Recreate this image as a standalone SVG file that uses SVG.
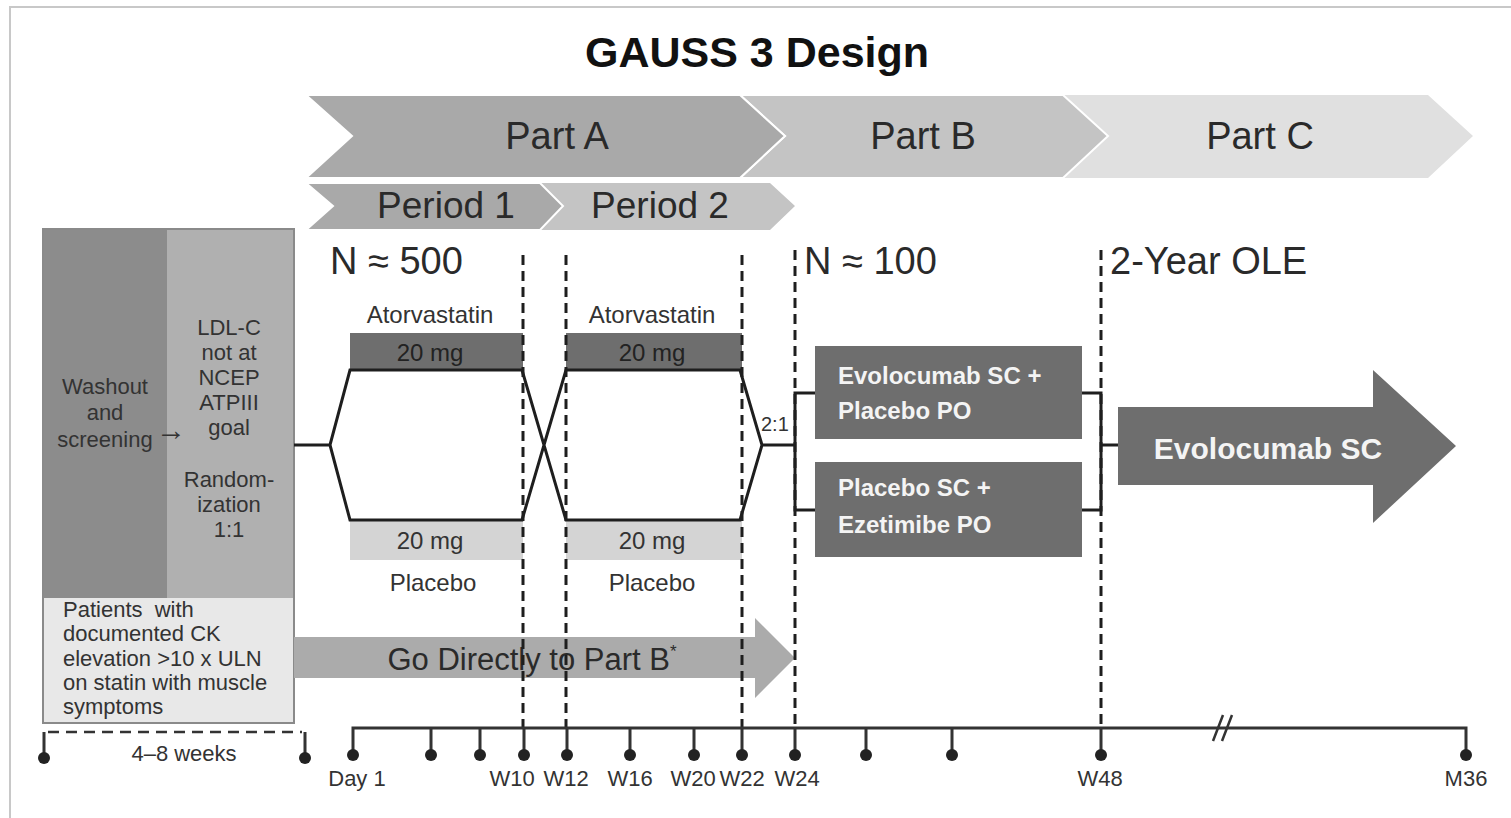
<svg xmlns="http://www.w3.org/2000/svg" width="1511" height="818" viewBox="0 0 1511 818">
<style>
text{font-family:"Liberation Sans",Arial,sans-serif}
.ttl{font-size:43px;font-weight:bold;text-anchor:middle;fill:#111}
.hdr{font-size:38px;text-anchor:middle;fill:#2a2a2a}
.per{font-size:37px;text-anchor:middle;fill:#2a2a2a}
.sm{font-size:22px;text-anchor:middle;fill:#333}
.sml{font-size:22px;text-anchor:start;fill:#333}
.arr{font-size:30px;fill:#333}
.lbl{font-size:24px;text-anchor:middle;fill:#333}
.lbd{font-size:24px;text-anchor:middle;fill:#222}
.big{font-size:38px;fill:#2a2a2a}
.r21{font-size:20px;fill:#333}
.wb{font-size:24px;font-weight:bold;fill:#f4f4f4}
.wbig{font-size:30px;font-weight:bold;text-anchor:middle;fill:#f4f4f4}
.go{font-size:31px;text-anchor:middle;fill:#2a2a2a}
.tl{font-size:22px;text-anchor:middle;fill:#333}
.ln{fill:none;stroke:#1e1e1e;stroke-width:3}
.dash{fill:none;stroke:#1e1e1e;stroke-width:3;stroke-dasharray:10 6}
.tick{fill:none;stroke:#333;stroke-width:3}
.dot{fill:#222}
.drk{fill:#6e6e6e}
</style>
<rect x="10" y="7" width="1520" height="830" fill="#fff" stroke="#c8c8c8" stroke-width="2"/>
<text class="ttl" x="757" y="67">GAUSS 3 Design</text>

<g id="partC"><polygon points="1063,95 1428,95 1473,136 1428,178 1063,178 1108,136" fill="#e0e0e0"/><text class="hdr" x="1260" y="149">Part C</text></g>
<g id="partB"><polygon points="740,95 1063,95 1108,136 1063,178 740,178 785,136" fill="#c4c4c4" stroke="#fff" stroke-width="2"/><text class="hdr" x="923" y="149">Part B</text></g>
<g id="partA"><polygon points="306,95 740,95 785,136 740,178 306,178 352,136" fill="#a9a9a9" stroke="#fff" stroke-width="2"/><text class="hdr" x="557" y="149">Part A</text></g>
<g id="period2"><polygon points="540,183 770,183 795,206 770,230 540,230 563,206" fill="#c4c4c4"/><text class="per" x="660" y="218">Period 2</text></g>
<g id="period1"><polygon points="306,183 540,183 563,206 540,230 306,230 333,206" fill="#a9a9a9" stroke="#fff" stroke-width="2"/><text class="per" x="446" y="218">Period 1</text></g>

<g id="screening">
<rect x="43" y="229" width="251" height="494" fill="#e8e8e8" stroke="#8a8a8a" stroke-width="2"/>
<rect x="44" y="230" width="123" height="368" fill="#8c8c8c"/>
<rect x="167" y="230" width="126" height="368" fill="#b0b0b0"/>
<text class="sm" x="105" y="394">Washout</text><text class="sm" x="105" y="420">and</text><text class="sm" x="105" y="447">screening</text>
<text class="arr" x="156" y="440">→</text>
<text class="sm" x="229" y="335">LDL-C</text><text class="sm" x="229" y="360">not at</text><text class="sm" x="229" y="385">NCEP</text><text class="sm" x="229" y="410">ATPIII</text><text class="sm" x="229" y="435">goal</text>
<text class="sm" x="229" y="487">Random-</text><text class="sm" x="229" y="512">ization</text><text class="sm" x="229" y="537">1:1</text>
<text class="sml" x="63" y="617" xml:space="preserve">Patients  with</text><text class="sml" x="63" y="641">documented CK</text><text class="sml" x="63" y="666">elevation &gt;10 x ULN</text><text class="sml" x="63" y="690">on statin with muscle</text><text class="sml" x="63" y="714">symptoms</text>
</g>

<g id="goDirect"><polygon points="294,637 755,637 755,618 795,658 755,698 755,678 294,678" fill="#ababab"/><text class="go" x="532" y="670">Go Directly to Part B<tspan font-size="17" dy="-13">*</tspan></text></g>

<g id="ator1"><text class="lbl" x="430" y="323">Atorvastatin</text><rect class="drk" x="350" y="333" width="173" height="37"/><text class="lbd" x="430" y="361">20 mg</text></g>
<g id="plac1"><rect x="350" y="520" width="173" height="40" fill="#d4d4d4"/><text class="lbl" x="430" y="549">20 mg</text><text class="lbl" x="433" y="591">Placebo</text></g>
<g id="ator2"><text class="lbl" x="652" y="323">Atorvastatin</text><rect class="drk" x="566" y="333" width="176" height="37"/><text class="lbd" x="652" y="361">20 mg</text></g>
<g id="plac2"><rect x="566" y="520" width="176" height="40" fill="#d4d4d4"/><text class="lbl" x="652" y="549">20 mg</text><text class="lbl" x="652" y="591">Placebo</text></g>

<text class="big" x="330" y="274">N ≈ 500</text>
<text class="big" x="804" y="274">N ≈ 100</text>
<text class="big" x="1110" y="274">2-Year OLE</text>
<text class="r21" x="761" y="431">2:1</text>

<g id="evoPO"><rect class="drk" x="815" y="346" width="267" height="93"/><text class="wb" x="838" y="384">Evolocumab SC +</text><text class="wb" x="838" y="419">Placebo PO</text></g>
<g id="placEze"><rect class="drk" x="815" y="462" width="267" height="95"/><text class="wb" x="838" y="496">Placebo SC +</text><text class="wb" x="838" y="533">Ezetimibe PO</text></g>
<g id="evoSC"><polygon class="drk" points="1118,407 1373,407 1373,370 1456,446 1373,523 1373,485 1118,485"/><text class="wbig" x="1268" y="459">Evolocumab SC</text></g>

<g id="connectors">
<path class="ln" d="M294,445 H330 L350,370 H522 L566,520 H740 L762,445 H795 M330,445 L350,520 H522 L566,370 H740 L762,445"/>
<path class="ln" d="M815,393 H795 V510 H815 M1082,393 H1101 V510 H1082 M1101,445 H1118" stroke-width="2.5"/>
<path class="dash" d="M523,255 V728 M566,255 V728 M742,255 V728 M795,250 V728 M1101,250 V728"/>
</g>

<g id="timeline">
<path class="tick" d="M353,755 V728 H1466 V755 M431,728 V755 M480,728 V755 M524,728 V755 M567,728 V755 M630,728 V755 M694,728 V755 M742,728 V755 M795,728 V755 M866,728 V755 M952,728 V755 M1101,728 V755"/>
<path d="M1213,741 L1223,715 M1222,741 L1232,715" stroke="#333" stroke-width="2.5"/>
<path class="tick" d="M44,758 V732 M305,758 V732" stroke-width="2.5"/>
<path d="M48,732 H302" stroke="#333" stroke-width="2.5" stroke-dasharray="11 7"/>
<g class="dot">
<circle cx="44" cy="758" r="6"/><circle cx="305" cy="758" r="6"/>
<circle cx="353" cy="755" r="6"/><circle cx="431" cy="755" r="6"/><circle cx="480" cy="755" r="6"/><circle cx="524" cy="755" r="6"/><circle cx="567" cy="755" r="6"/><circle cx="630" cy="755" r="6"/><circle cx="694" cy="755" r="6"/><circle cx="742" cy="755" r="6"/><circle cx="795" cy="755" r="6"/><circle cx="866" cy="755" r="6"/><circle cx="952" cy="755" r="6"/><circle cx="1101" cy="755" r="6"/><circle cx="1466" cy="755" r="6"/>
</g>
<text class="tl" x="184" y="761">4–8 weeks</text>
<text class="tl" x="357" y="786">Day 1</text><text class="tl" x="512" y="786">W10</text><text class="tl" x="566" y="786">W12</text><text class="tl" x="630" y="786">W16</text><text class="tl" x="693" y="786">W20</text><text class="tl" x="742" y="786">W22</text><text class="tl" x="797" y="786">W24</text><text class="tl" x="1100" y="786">W48</text><text class="tl" x="1466" y="786">M36</text>
</g>
</svg>
